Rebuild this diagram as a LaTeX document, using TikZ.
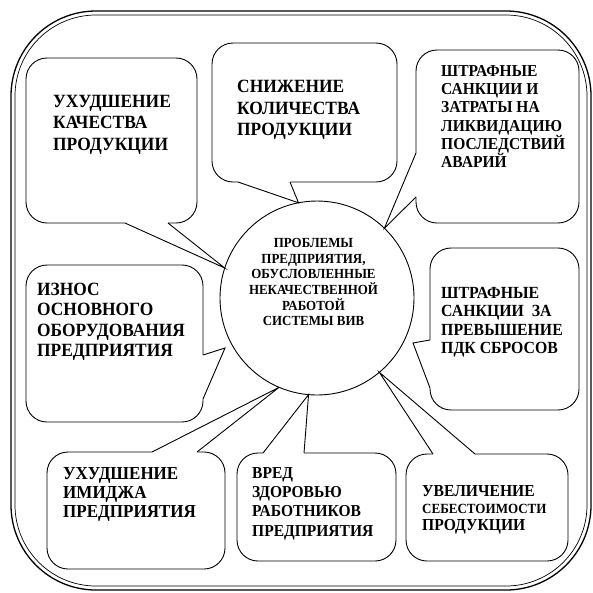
\documentclass[tikz,border=0pt]{standalone}
\usepackage{fontspec}
\setmainfont{Liberation Serif}[FakeStretch=0.93]
\tikzset{
  bubble/.style={draw, rounded corners=21pt, anchor=north west, inner sep=0pt, outer sep=0pt, line width=0.9pt},
  say/.style={anchor=north west, inner sep=0pt, align=left},
  hole/.style={fill=white},
  tail/.style={line width=0.9pt, line join=miter}
}
\begin{document}
\begin{tikzpicture}[x=1pt, y=-1pt]
\useasboundingbox (0,0) rectangle (593,592);
% outer frame
\draw[line width=1.3pt, rounded corners=85pt] (11,11) rectangle (591,590);
\draw[line width=0.7pt, rounded corners=81pt] (15,15) rectangle (587,586);

% bubbles
\node[bubble, minimum width=171pt, minimum height=165pt] (b1) at (26,58) {};
\node[bubble, minimum width=185pt, minimum height=139pt] (b2) at (212,43) {};
\node[bubble, minimum width=163pt, minimum height=173pt] (b3) at (416,50) {};
\node[bubble, minimum width=149pt, minimum height=162pt] (b4) at (430,248) {};
\node[bubble, minimum width=177pt, minimum height=157pt] (b5) at (26,265) {};
\node[bubble, minimum width=178pt, minimum height=117pt] (b6) at (47,452) {};
\node[bubble, minimum width=159pt, minimum height=108pt] (b7) at (237,453) {};
\node[bubble, minimum width=162pt, minimum height=107pt] (b8) at (406,454) {};

% centre
\node[circle, draw, line width=0.9pt, minimum size=194pt, inner sep=0pt, outer sep=0pt] (c) at (317,298) {};
\coordinate (p4) at (413,343);
\coordinate (p5) at (225,348);

% tails
\fill[hole] ([xshift=99pt]b1.south west) -- (c.162) -- ([xshift=142pt]b1.south west) -- ([xshift=142pt,yshift=2pt]b1.south west) -- ([xshift=99pt,yshift=2pt]b1.south west) -- cycle;
\draw[tail] ([xshift=99pt]b1.south west) -- (c.162) -- ([xshift=142pt]b1.south west);

\fill[hole] ([xshift=26pt]b2.south west) -- (c.101) -- ([xshift=78pt]b2.south west) -- ([xshift=78pt,yshift=2pt]b2.south west) -- ([xshift=26pt,yshift=2pt]b2.south west) -- cycle;
\draw[tail] ([xshift=26pt]b2.south west) -- (c.101) -- ([xshift=78pt]b2.south west);

\fill[hole] ([yshift=-103pt]b3.north west) -- (c.46) -- ([yshift=-147pt]b3.north west) -- ([xshift=2pt,yshift=-147pt]b3.north west) -- ([xshift=2pt,yshift=-103pt]b3.north west) -- cycle;
\draw[tail] ([yshift=-103pt]b3.north west) -- (c.46) -- ([yshift=-147pt]b3.north west);

\fill[hole] ([yshift=-92pt]b4.north west) -- (p4) -- ([yshift=-140pt]b4.north west) -- ([xshift=2pt,yshift=-140pt]b4.north west) -- ([xshift=2pt,yshift=-92pt]b4.north west) -- cycle;
\draw[tail] ([yshift=-92pt]b4.north west) -- (p4) -- ([yshift=-140pt]b4.north west);

\fill[hole] ([yshift=-90pt]b5.north east) -- (p5) -- ([yshift=-134pt]b5.north east) -- ([xshift=-2pt,yshift=-134pt]b5.north east) -- ([xshift=-2pt,yshift=-90pt]b5.north east) -- cycle;
\draw[tail] ([yshift=-90pt]b5.north east) -- (p5) -- ([yshift=-134pt]b5.north east);

\fill[hole] ([xshift=105pt]b6.north west) -- (c.247) -- ([xshift=150pt]b6.north west) -- ([xshift=150pt,yshift=-2pt]b6.north west) -- ([xshift=105pt,yshift=-2pt]b6.north west) -- cycle;
\draw[tail] ([xshift=105pt]b6.north west) -- (c.247) -- ([xshift=150pt]b6.north west);

\fill[hole] ([xshift=26pt]b7.north west) -- (c.265) -- ([xshift=67pt]b7.north west) -- ([xshift=67pt,yshift=-2pt]b7.north west) -- ([xshift=26pt,yshift=-2pt]b7.north west) -- cycle;
\draw[tail] ([xshift=26pt]b7.north west) -- (c.265) -- ([xshift=67pt]b7.north west);

\fill[hole] ([xshift=27pt]b8.north west) -- (c.310) -- ([xshift=69pt]b8.north west) -- ([xshift=69pt,yshift=-2pt]b8.north west) -- ([xshift=27pt,yshift=-2pt]b8.north west) -- cycle;
\draw[tail] ([xshift=27pt]b8.north west) -- (c.310) -- ([xshift=69pt]b8.north west);

% texts
\node[say, font=\bfseries\fontsize{18.7}{21.5}\selectfont] (t1) at (53,95) {УХУДШЕНИЕ\\КАЧЕСТВА\\ПРОДУКЦИИ};
\node[say, font=\bfseries\fontsize{18.7}{21.5}\selectfont] (t2) at (237,80) {СНИЖЕНИЕ\\КОЛИЧЕСТВА\\ПРОДУКЦИИ};
\node[say, font=\bfseries\fontsize{16.7}{18.3}\selectfont] (t3) at (441,65) {ШТРАФНЫЕ\\САНКЦИИ И\\ЗАТРАТЫ НА\\ЛИКВИДАЦИЮ\\ПОСЛЕДСТВИЙ\\АВАРИЙ};
\node[say, font=\bfseries\fontsize{17}{18.5}\selectfont] (t4) at (441,287) {ШТРАФНЫЕ\\САНКЦИИ~ ЗА\\ПРЕВЫШЕНИЕ\\ПДК СБРОСОВ};
\node[say, font=\bfseries\fontsize{18.7}{20.3}\selectfont] (t5) at (37,283) {ИЗНОС\\ОСНОВНОГО\\ОБОРУДОВАНИЯ\\ПРЕДПРИЯТИЯ};
\node[say, font=\bfseries\fontsize{18.3}{19.3}\selectfont] (t6) at (63,467) {УХУДШЕНИЕ\\ИМИДЖА\\ПРЕДПРИЯТИЯ};
\node[say, font=\bfseries\fontsize{16.7}{19.3}\selectfont] (t7) at (252,467) {ВРЕД\\ЗДОРОВЬЮ\\РАБОТНИКОВ\\ПРЕДПРИЯТИЯ};
\node[say, font=\bfseries\fontsize{16.8}{17}\selectfont] (t8) at (422,485) {УВЕЛИЧЕНИЕ\\{\fontsize{14}{17}\selectfont СЕБЕСТОИМОСТИ}\\ПРОДУКЦИИ};
\node[anchor=north, inner sep=0pt, align=center, font=\bfseries\fontsize{13.9}{15.7}\selectfont] (tc) at (313.5,238) {ПРОБЛЕМЫ\\ПРЕДПРИЯТИЯ,\\ОБУСЛОВЛЕННЫЕ\\НЕКАЧЕСТВЕННОЙ\\РАБОТОЙ\\СИСТЕМЫ ВИВ};
\end{tikzpicture}
\end{document}
